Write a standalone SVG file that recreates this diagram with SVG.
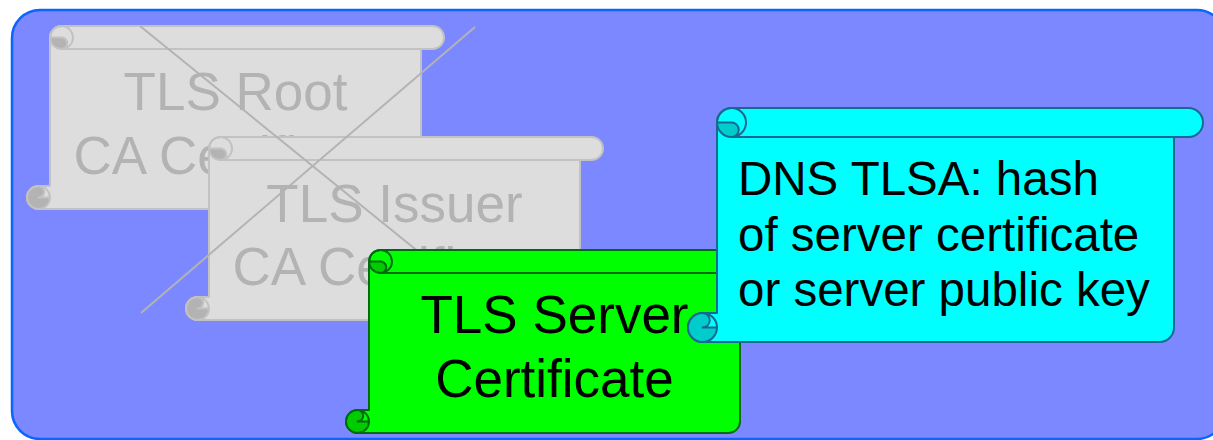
<svg xmlns="http://www.w3.org/2000/svg" xmlns:xlink="http://www.w3.org/1999/xlink" width="1213" height="440" viewBox="0 0 1213 440">
  <style>
    .lbl { font-family: "Liberation Sans", Arial, sans-serif; }
    .gray .body { fill: #dddddd; stroke: #c2c2c2; }
    .gray .curl { fill: #b3b3b3; }
    .gray .line { stroke: #c2c2c2; }
    .gray text { fill: #b3b3b3; }
    .green .body { fill: #00ff00; stroke: #006a10; }
    .green .curl { fill: #00cc00; }
    .green .line { stroke: #006a10; }
    .cyan .body { fill: #00ffff; stroke: #17698f; }
    .cyan .curl { fill: #00cccc; }
    .cyan .line { stroke: #17698f; }
    .body { stroke-width: 2; stroke-linejoin: round; }
    .line { fill: none; stroke-width: 2; stroke-linejoin: round; }
    .cross { stroke: #b3b3b3; stroke-width: 2; fill: none; }
  </style>
  <defs>
    <!-- horizontal scroll, 417 x 183 -->
    <path id="s-body" d="M417,11.5 A11.5,11.5 0 0 1 405.5,23 L394,23 L394,171.5 A11.5,11.5 0 0 1 382.5,183 L11.5,183 A11.5,11.5 0 0 1 11.5,160 L23,160 L23,11.5 A11.5,11.5 0 0 1 34.5,0 L405.5,0 A11.5,11.5 0 0 1 417,11.5 Z"/>
    <path id="s-curl" d="M23,11.5 A11.5,11.5 0 0 0 34.5,23 A5.75,5.75 0 0 0 34.5,11.5 Z M11.5,160 A11.5,11.5 0 1 0 23,171.5 L11.5,171.5 A5.75,5.75 0 0 0 11.5,160 Z"/>
    <path id="s-line" d="M34.5,0 A11.5,11.5 0 1 1 34.5,23 A11.5,11.5 0 1 1 34.5,0 M23,11.5 L34.5,11.5 A5.75,5.75 0 0 1 34.5,23 L405.5,23 M11.5,160 A11.5,11.5 0 1 1 11.5,183 A11.5,11.5 0 1 1 11.5,160 M23,171.5 L11.5,171.5 A5.75,5.75 0 0 0 11.5,160"/>
    <!-- larger horizontal scroll, 515 x 234 -->
    <path id="l-body" d="M515,14.5 A14.5,14.5 0 0 1 500.5,29 L486,29 L486,219.5 A14.5,14.5 0 0 1 471.5,234 L14.5,234 A14.5,14.5 0 0 1 14.5,205 L29,205 L29,14.5 A14.5,14.5 0 0 1 43.5,0 L500.5,0 A14.5,14.5 0 0 1 515,14.5 Z"/>
    <path id="l-curl" d="M29,14.5 A14.5,14.5 0 0 0 43.5,29 A7.25,7.25 0 0 0 43.5,14.5 Z M14.5,205 A14.5,14.5 0 1 0 29,219.5 L14.5,219.5 A7.25,7.25 0 0 0 14.5,205 Z"/>
    <path id="l-line" d="M43.5,0 A14.5,14.5 0 1 1 43.5,29 A14.5,14.5 0 1 1 43.5,0 M29,14.5 L43.5,14.5 A7.25,7.25 0 0 1 43.5,29 L500.5,29 M14.5,205 A14.5,14.5 0 1 1 14.5,234 A14.5,14.5 0 1 1 14.5,205 M29,219.5 L14.5,219.5 A7.25,7.25 0 0 0 14.5,205"/>
  </defs>

  <!-- panel -->
  <rect x="12" y="10" width="1213" height="429" rx="28" ry="28" fill="#7b88ff" stroke="#0a64ff" stroke-width="2.5"/>

  <g id="root-ca" class="gray">
    <g transform="translate(27,26)">
      <use xlink:href="#s-body" class="body"/>
      <use xlink:href="#s-curl" class="curl"/>
      <use xlink:href="#s-line" class="line"/>
    </g>
    <text class="lbl" x="235.5" y="110" font-size="53" text-anchor="middle">TLS Root</text>
    <text class="lbl" x="235.5" y="174" font-size="53" text-anchor="middle">CA Certificate</text>
  </g>

  <g id="issuer-ca" class="gray">
    <g transform="translate(186,137)">
      <use xlink:href="#s-body" class="body"/>
      <use xlink:href="#s-curl" class="curl"/>
      <use xlink:href="#s-line" class="line"/>
    </g>
    <text class="lbl" x="394.5" y="222" font-size="53" text-anchor="middle">TLS Issuer</text>
    <text class="lbl" x="394.5" y="285" font-size="53" text-anchor="middle">CA Certificate</text>
  </g>

  <!-- strike-through over the CA chain -->
  <g id="connectors">
    <line class="cross" x1="140" y1="26" x2="494" y2="313"/>
    <line class="cross" x1="475" y1="27" x2="141" y2="313"/>
  </g>

  <g id="server-cert" class="green">
    <g transform="translate(346,250)">
      <use xlink:href="#s-body" class="body"/>
      <use xlink:href="#s-curl" class="curl"/>
      <use xlink:href="#s-line" class="line"/>
    </g>
    <text class="lbl" x="554.5" y="333" font-size="53" text-anchor="middle" fill="#000000">TLS Server</text>
    <text class="lbl" x="554.5" y="397" font-size="53" text-anchor="middle" fill="#000000">Certificate</text>
  </g>

  <g id="dns-tlsa" class="cyan">
    <g transform="translate(688,108)">
      <use xlink:href="#l-body" class="body"/>
      <use xlink:href="#l-curl" class="curl"/>
      <use xlink:href="#l-line" class="line"/>
    </g>
    <text class="lbl" x="738" y="195" font-size="47.5" fill="#000000">DNS TLSA: hash</text>
    <text class="lbl" x="738" y="251" font-size="47.5" fill="#000000">of server certificate</text>
    <text class="lbl" x="738" y="306" font-size="47.5" fill="#000000">or server public key</text>
  </g>
</svg>
